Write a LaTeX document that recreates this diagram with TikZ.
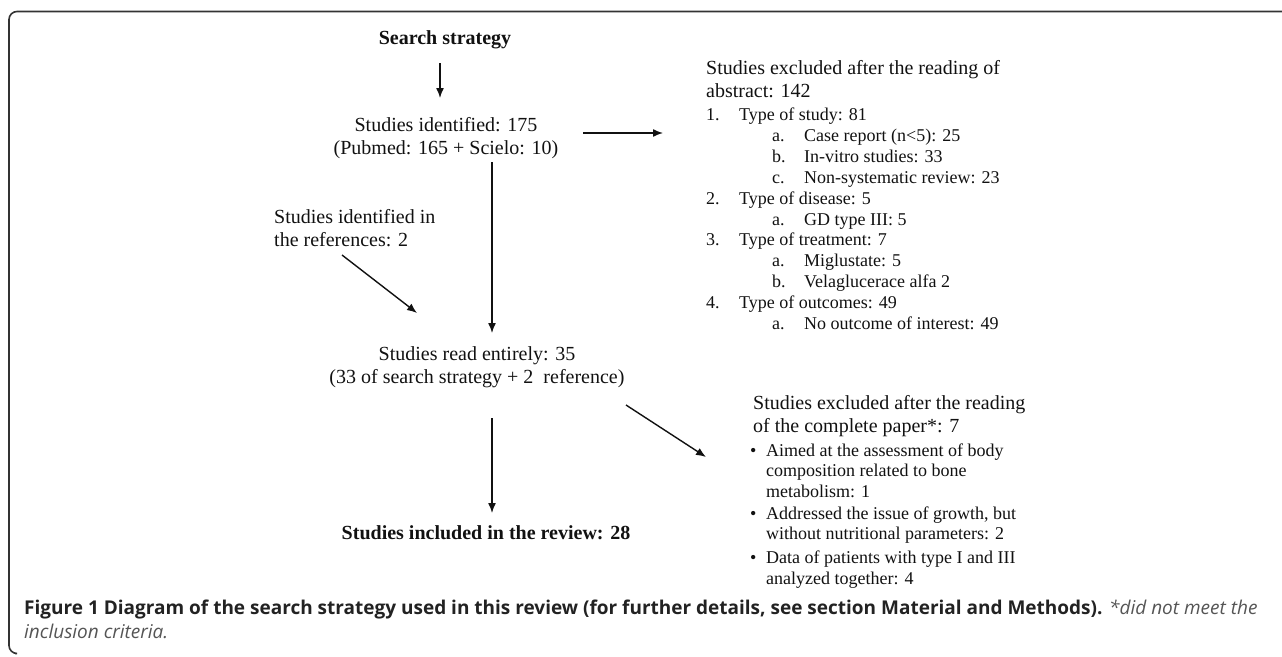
\documentclass[tikz,border=0pt]{standalone}
\usepackage{fontspec}
\setmainfont{Liberation Serif}
\newfontfamily\capfont{Open Sans}
\usetikzlibrary{arrows.meta}
\definecolor{frm}{HTML}{333333}
\definecolor{capgray}{HTML}{555555}
\definecolor{ink}{HTML}{111111}
\definecolor{capink}{HTML}{222222}
\newcommand\numbox[2]{\makebox[#1][l]{#2}}
\begin{document}
\begin{tikzpicture}[x=1pt,y=-1pt,
  txt/.style={inner sep=0pt, text=ink, font=\fontsize{20}{23}\selectfont},
  btxt/.style={inner sep=0pt, text=ink, font=\fontsize{20}{23}\selectfont\bfseries},
  hline/.style={txt, anchor=base west},
  itm/.style={inner sep=0pt, text=ink, anchor=base west, font=\fontsize{18}{21}\selectfont},
  capline/.style={inner sep=0pt, anchor=base west, font=\capfont\fontsize{19}{24}\selectfont},
  arr/.style={draw=ink, line width=1.4pt, -{Latex[length=10pt,width=8pt]}},
  frame/.style={draw=frm, line width=1.6pt, rounded corners=8pt}
]
\useasboundingbox (0,0) rectangle (1282,656);
\draw[frame] (1290,11.5) -| (9,653.5) -- (15,653.5);

% main flow
\node[btxt, anchor=base] (search) at (445,44) {Search strategy};
\node[txt, align=center] (ident) at (446,138.5) {Studies identified: 175\\(Pubmed: 165 + Scielo: 10)};
\node[txt, align=left, anchor=west] (refs) at (274,228.5) {Studies identified in\\the references: 2};
\node[txt, align=center] (read) at (477,367.5) {Studies read entirely: 35\\(33 of search strategy + 2\ \ reference)};
\node[btxt, anchor=base] (incl) at (486,539) {Studies included in the review: 28};

% exclusion list 1
\node[hline] (e1a) at (706,74) {Studies excluded after the reading of};
\node[hline] (e1b) at (706,97) {abstract: 142};
\node[itm] (e1c) at (706,120) {\numbox{33pt}{1.}Type of study: 81};
\node[itm] (e1d) at (772,141) {\numbox{32pt}{a.}Case report (n<5): 25};
\node[itm] (e1e) at (772,162) {\numbox{32pt}{b.}In-vitro studies: 33};
\node[itm] (e1f) at (772,183) {\numbox{32pt}{c.}Non-systematic review: 23};
\node[itm] (e1g) at (706,204) {\numbox{33pt}{2.}Type of disease: 5};
\node[itm] (e1h) at (772,225) {\numbox{32pt}{a.}GD type III: 5};
\node[itm] (e1i) at (706,245) {\numbox{33pt}{3.}Type of treatment: 7};
\node[itm] (e1j) at (772,266) {\numbox{32pt}{a.}Miglustate: 5};
\node[itm] (e1k) at (772,287) {\numbox{32pt}{b.}Velaglucerace alfa 2};
\node[itm] (e1l) at (706,308) {\numbox{33pt}{4.}Type of outcomes: 49};
\node[itm] (e1m) at (772,329) {\numbox{32pt}{a.}No outcome of interest: 49};

% exclusion list 2
\node[hline] (e2a) at (753,409) {Studies excluded after the reading};
\node[hline] (e2b) at (753,432) {of the complete paper*: 7};
\node[itm] (e2c) at (750,456) {\numbox{16pt}{\textbullet}Aimed at the assessment of body};
\node[itm] (e2d) at (766,476) {composition related to bone};
\node[itm] (e2e) at (766,497) {metabolism: 1};
\node[itm] (e2f) at (750,519) {\numbox{16pt}{\textbullet}Addressed the issue of growth, but};
\node[itm] (e2g) at (766,539) {without nutritional parameters: 2};
\node[itm] (e2h) at (750,563) {\numbox{16pt}{\textbullet}Data of patients with type I and III};
\node[itm] (e2i) at (766,584) {analyzed together: 4};

% caption
\node[capline] (cap1) at (24,614) {\textbf{\color{capink}Figure 1 Diagram of the search strategy used in this review (for further details, see section Material and Methods).} {\itshape\color{capgray}*did not meet the}};
\node[capline] (cap2) at (24,638) {\itshape\color{capgray}inclusion criteria.};

% connectors
\coordinate (a1s) at (440,63);  \coordinate (a1e) at (440,98);
\coordinate (a2s) at (583,133); \coordinate (a2e) at (663,133);
\coordinate (a3s) at (492,162); \coordinate (a3e) at (492,333);
\coordinate (a4s) at (342,255); \coordinate (a4e) at (417,313);
\coordinate (a5s) at (492,418); \coordinate (a5e) at (492,513);
\coordinate (a6s) at (626,405); \coordinate (a6e) at (706,457);
\draw[arr] (a1s) -- (a1e);
\draw[arr] (a2s) -- (a2e);
\draw[arr] (a3s) -- (a3e);
\draw[arr] (a4s) -- (a4e);
\draw[arr] (a5s) -- (a5e);
\draw[arr] (a6s) -- (a6e);
\end{tikzpicture}
\end{document}
